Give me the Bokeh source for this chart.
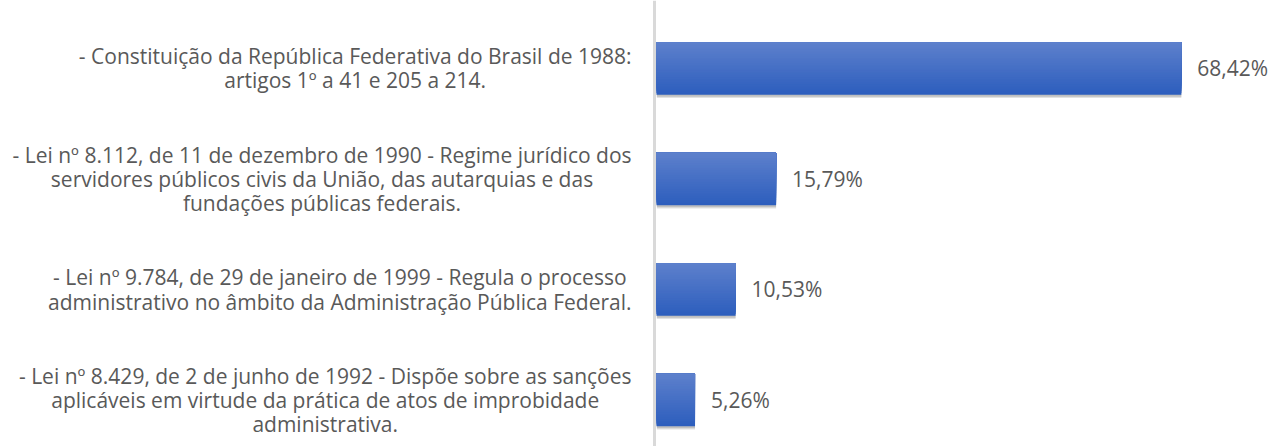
from bokeh.plotting import figure
from bokeh.models import ColumnDataSource, Span, Range1d
from bokeh.transform import dodge
from bokeh.core.properties import value
from bokeh.embed import file_html
from bokeh.resources import INLINE

categories = [
    "- Constituição da República Federativa do Brasil de 1988:\nartigos 1º a 41 e 205 a 214.",
    "- Lei nº 8.112, de 11 de dezembro de 1990 - Regime jurídico dos\nservidores públicos civis da União, das autarquias e das\nfundações públicas federais.",
    "- Lei nº 9.784, de 29 de janeiro de 1999 - Regula o processo\nadministrativo no âmbito da Administração Pública Federal.",
    "- Lei nº 8.429, de 2 de junho de 1992 - Dispõe sobre as sanções\naplicáveis em virtude da prática de atos de improbidade\nadministrativa.",
]
values = [68.42, 15.79, 10.53, 5.26]
value_labels = ["68,42%", "15,79%", "10,53%", "5,26%"]

n = len(categories)
ypos = [n - 1 - i for i in range(n)]

src = ColumnDataSource(dict(y=ypos, v=values, cat=categories, lab=value_labels))

W, H = 1271, 446
p = figure(width=W, height=H, output_backend="svg", toolbar_location=None,
           x_range=Range1d(-84.94, 80.13), y_range=Range1d(-0.421, 3.615),
           min_border=0, outline_line_color=None)
p.xaxis.visible = False
p.yaxis.visible = False
p.xgrid.visible = False
p.ygrid.visible = False

p.add_layout(Span(location=0, dimension="height", line_color="#d9d9d9", line_width=3))

bar_h = 0.475
# soft shadow
p.hbar(y=dodge("y", -0.03, range=p.y_range), right="v", left=0.3, height=bar_h,
       source=src, fill_color="#8c8c8c", fill_alpha=0.25, line_color=None)
p.hbar(y=dodge("y", -0.018, range=p.y_range), right="v", left=0.3, height=bar_h,
       source=src, fill_color="#7f7f7f", fill_alpha=0.35, line_color=None)

# vertical gradient bar: stacked opaque layers anchored at the bar's top edge
top = (93, 128, 204)
bot = (45, 94, 189)
N = 30
for i in range(N):
    t = 1 - i / (N - 1)          # first layer = bottom colour, last = top colour
    c = tuple(int(round(top[k] + (bot[k] - top[k]) * t)) for k in range(3))
    hh = bar_h * (1 - i / N)
    off = bar_h / 2 - hh / 2
    p.hbar(y=dodge("y", off, range=p.y_range), right="v", left=0.25,
           height=hh, source=src,
           fill_color="#%02x%02x%02x" % c, line_color=None)

p.text(x="v", y="y", text="lab", source=src, x_offset=16,
       text_align="left", text_baseline="middle", text_color="#595959",
       text_font=value("Open Sans"), text_font_size="21px")

p.text(x=0, y="y", text="cat", source=src, x_offset=-23,
       anchor="center_right", text_align="center", text_baseline="middle",
       text_color="#595959", text_font=value("Open Sans"), text_font_size="21px",
       text_line_height=0.86)

open("out.html", "w").write(file_html(p, INLINE))
